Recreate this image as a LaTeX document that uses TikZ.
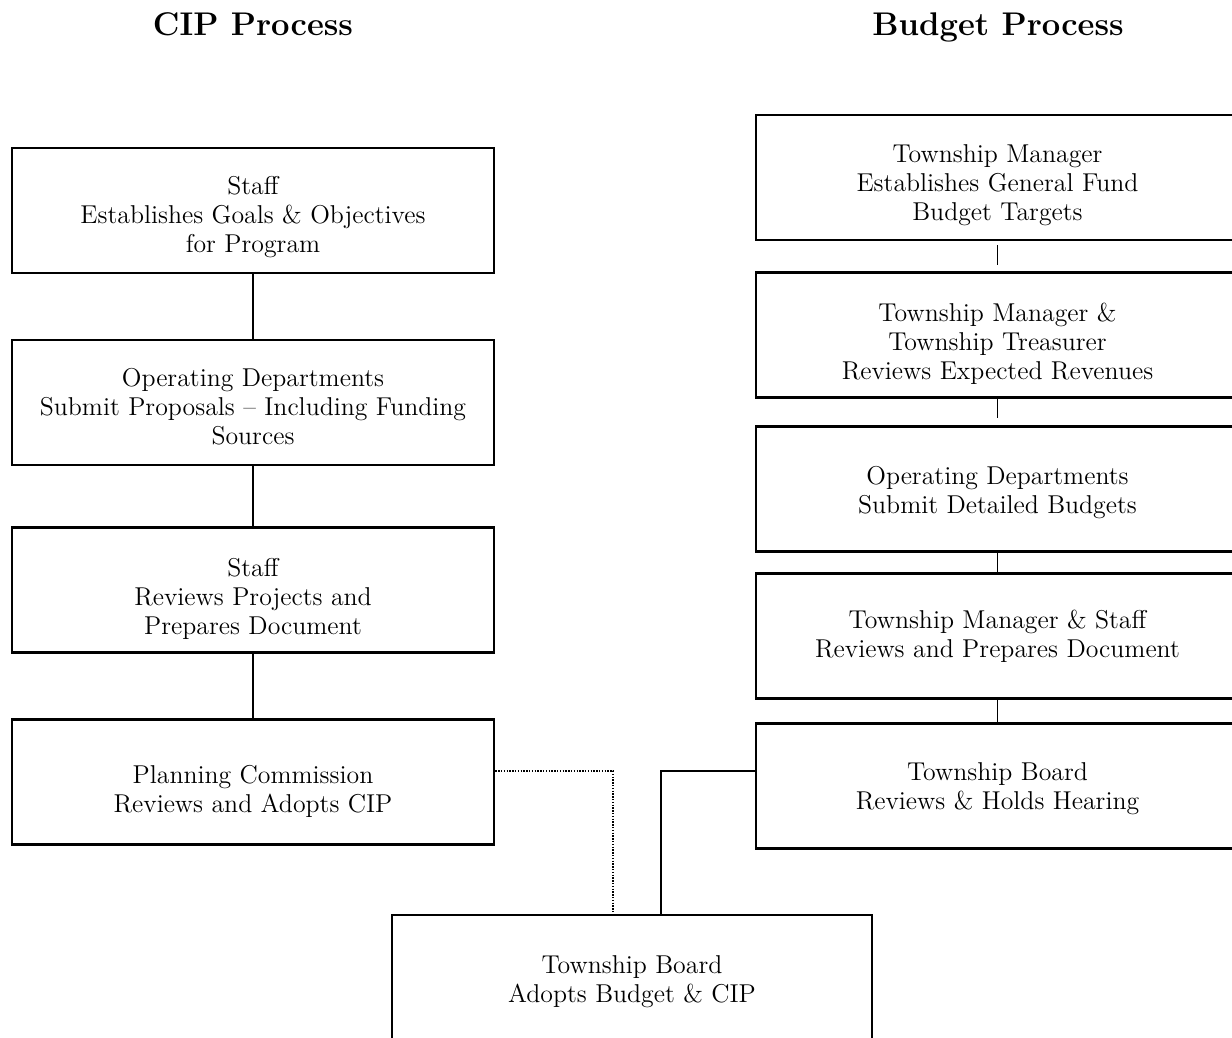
\documentclass[tikz,border=0pt]{standalone}
\newcommand\firstup[1]{\rule{0pt}{#1pt}}
\begin{document}
\begin{tikzpicture}[x=0.5pt,y=-0.5pt,
  procbox/.style={draw, line width=1.4pt, minimum width=241pt, minimum height=62.5pt,
    align=center, inner sep=0pt, font=\fontsize{12.9}{14.5}\selectfont},
  headtext/.style={font=\fontsize{16.4}{19}\selectfont\bfseries, anchor=base},
  link/.style={line width=0.8pt},
  dotlink/.style={line width=0.8pt, dash pattern=on 0.7pt off 0.7pt}]
\useasboundingbox (0,0) rectangle (1232,1038);

\node[headtext] (t1) at (253,36) {CIP Process};
\node[headtext] (t2) at (998,36) {Budget Process};

% CIP column
\node[procbox] (c1) at (253,210.5) {\firstup{15.7}Staff\\Establishes Goals \& Objectives\\for Program};
\node[procbox] (c2) at (253,402.5) {\firstup{13.7}Operating Departments\\Submit Proposals -- Including Funding\\Sources};
\node[procbox] (c3) at (253,590) {\firstup{17.7}Staff\\Reviews Projects and\\Prepares Document};
\node[procbox] (c4) at (253,782) {\firstup{18.7}Planning Commission\\Reviews and Adopts CIP};

% Budget column
\node[procbox, minimum width=241.5pt] (b1) at (997.5,177.5) {\firstup{16.7}Township Manager\\Establishes General Fund\\Budget Targets};
\node[procbox, minimum width=241.5pt] (b2) at (997.5,335) {\firstup{17.7}Township Manager \&\\Township Treasurer\\Reviews Expected Revenues};
\node[procbox, minimum width=241.5pt] (b3) at (997.5,489) {\firstup{12.7}Operating Departments\\Submit Detailed Budgets};
\node[procbox, minimum width=241.5pt] (b4) at (997.5,636) {Township Manager \& Staff\\Reviews and Prepares Document};
\node[procbox, minimum width=241.5pt] (b5) at (997.5,786) {\firstup{11.7}Township Board\\Reviews \& Holds Hearing};

% Final
\node[procbox, minimum width=240pt] (f) at (632,977.5) {\firstup{12.7}Township Board\\Adopts Budget \& CIP};

% connectors CIP
\draw[link] (c1.south) -- (c2.north);
\draw[link] (c2.south) -- (c3.north);
\draw[link] (c3.south) -- (c4.north);

% connectors Budget
\draw[link, shorten <=2pt, shorten >=3pt] (b1.south) -- (b2.north);
\draw[link, shorten >=3.5pt] (b2.south) -- (b3.north);
\draw[link] (b3.south) -- (b4.north);
\draw[link] (b4.south) -- (b5.north);

% to final
\coordinate (d1) at (613,771);
\coordinate (s1) at (661,771);
\draw[dotlink] (c4.east |- d1) -- (d1) -- (d1 |- f.north);
\draw[link] (b5.west |- s1) -- (s1) -- (s1 |- f.north);
\end{tikzpicture}
\end{document}
